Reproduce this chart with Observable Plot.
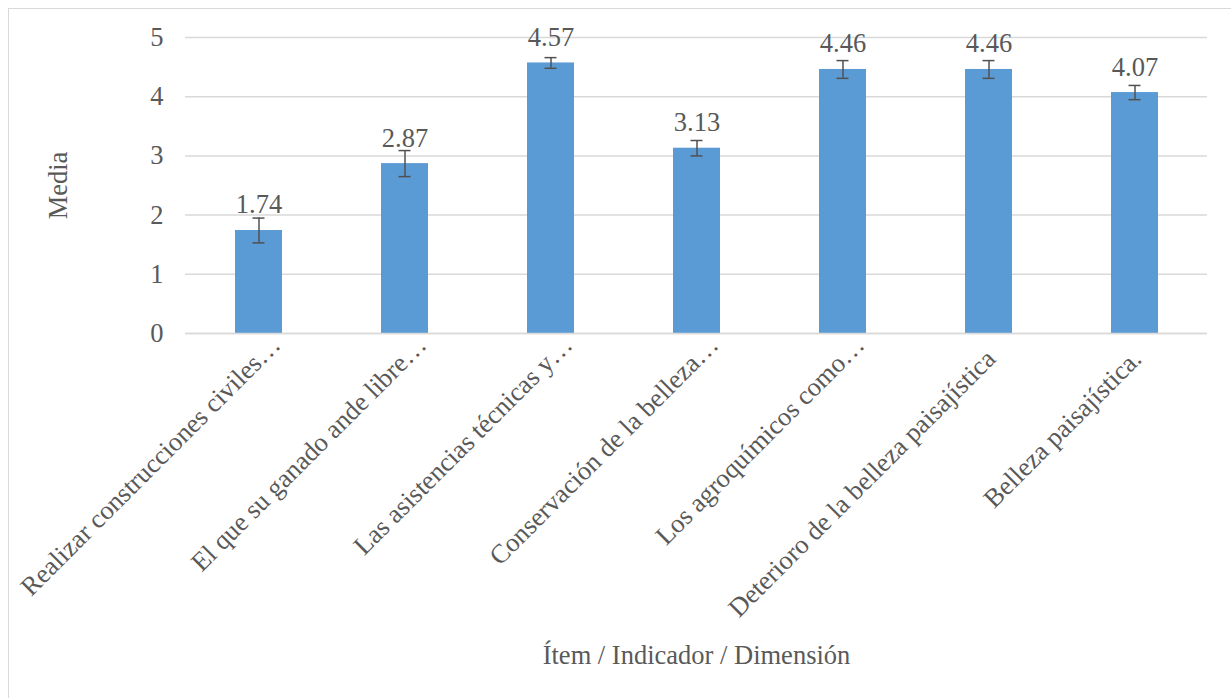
<!DOCTYPE html>
<html>
<head>
<meta charset="utf-8">
<script src="https://cdn.jsdelivr.net/npm/d3@7"></script>
<script src="https://cdn.jsdelivr.net/npm/@observablehq/plot@0.6"></script>
<style>
  html, body { margin: 0; padding: 0; background: #fff; }
  #wrap { position: relative; width: 1231px; height: 698px; overflow: hidden; }
  #border { position: absolute; left: 8px; top: 8px; width: 1300px; height: 800px;
            border-left: 1.5px solid #d9d9d9; border-top: 1.5px solid #d9d9d9; box-sizing: border-box; }
  #chart { position: absolute; left: 0; top: 0; }
</style>
</head>
<body>
<div id="wrap"><div id="border"></div><div id="chart"></div></div>
<script>
const categories = [
  "Realizar construcciones civiles…",
  "El que su ganado ande libre…",
  "Las asistencias técnicas y…",
  "Conservación de la belleza…",
  "Los agroquímicos como…",
  "Deterioro de la belleza paisajística",
  "Belleza paisajística."
];
const means = [1.74, 2.87, 4.57, 3.13, 4.46, 4.46, 4.07];
const errors = [0.21, 0.22, 0.09, 0.13, 0.15, 0.15, 0.12];
const yTicks = [0, 1, 2, 3, 4, 5];
const truncated = categories.filter(c => c.endsWith("…"));
const full = categories.filter(c => !c.endsWith("…"));

const data = categories.map((c, i) => ({
  cat: c, mean: means[i], lo: means[i] - errors[i], hi: means[i] + errors[i]
}));

const font = "'Liberation Serif', 'Times New Roman', serif";
const ink = "#595959";
const fs = 26.5;

const chart = Plot.plot({
  width: 1231,
  height: 698,
  marginLeft: 185,
  marginRight: 24,
  marginTop: 37,
  marginBottom: 365,
  style: { fontFamily: font, color: ink, background: "transparent" },
  x: { domain: categories, paddingInner: 0.68, paddingOuter: 0.34 },
  y: { domain: [0, 5] },
  marks: [
    Plot.gridY(yTicks, { stroke: "#d9d9d9", strokeOpacity: 1, strokeWidth: 1.5 }),
    Plot.barY(data, { x: "cat", y: "mean", fill: "#5B9BD5" }),
    Plot.ruleX(data, { x: "cat", y1: "lo", y2: "hi", stroke: "#505050", strokeWidth: 1.5 }),
    Plot.tickY(data, { x: "cat", y: "lo", stroke: "#505050", strokeWidth: 1.5, insetLeft: 17.5, insetRight: 17.5 }),
    Plot.tickY(data, { x: "cat", y: "hi", stroke: "#505050", strokeWidth: 1.5, insetLeft: 17.5, insetRight: 17.5 }),
    Plot.text(data, { x: "cat", y: "mean", text: d => d.mean.toFixed(2), dy: -17, lineAnchor: "bottom",
      fontSize: fs, fill: ink, fontFamily: font }),
    Plot.axisY(yTicks, { tickSize: 0, tickPadding: 22, fontSize: fs, label: "Media",
      labelAnchor: "center", labelOffset: 137, tickFormat: d => String(d) }),
    Plot.axisX(truncated, { tickSize: 0, tickRotate: -45, tickPadding: 7, dx: 17, fontSize: fs,
      label: "Ítem / Indicador / Dimensión", labelAnchor: "center", labelOffset: 330 }),
    Plot.axisX(full, { tickSize: 0, tickRotate: -45, tickPadding: 21, dx: 2, fontSize: fs, label: null }),
    Plot.ruleY([0], { stroke: "#d9d9d9", strokeWidth: 1.5 })
  ]
});
d3.select(chart).selectAll("text").attr("fill", ink);
d3.select(chart).selectAll("g[aria-label='y-axis label'] text, g[aria-label='x-axis label'] text")
  .style("font-size", fs + "px")
  .each(function() {
    const t = d3.select(this);
    t.text(t.text().replace(/\s*[↑→←↓]\s*/g, ""));
  });
document.getElementById("chart").appendChild(chart);
</script>
</body>
</html>
